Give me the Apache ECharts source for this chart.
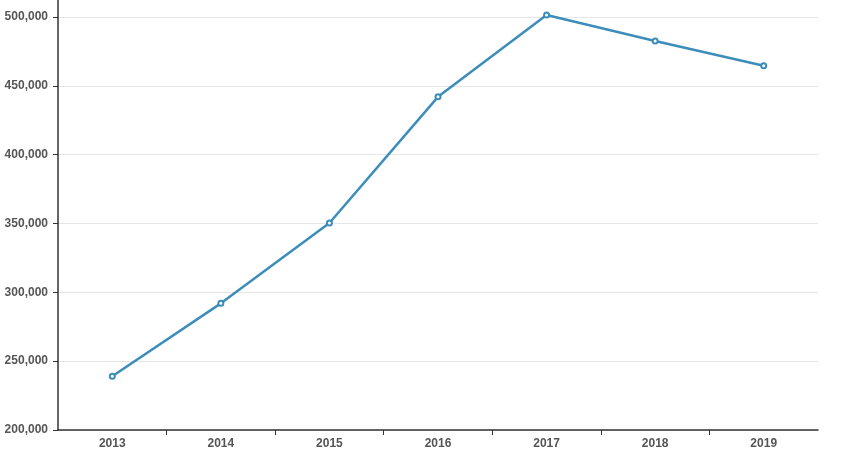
<!DOCTYPE html>
<html>
<head>
<meta charset="utf-8">
<style>
  html, body { margin: 0; padding: 0; background: #fff; }
  #chart { width: 853px; height: 471px; }
</style>
<script src="https://cdn.jsdelivr.net/npm/echarts@6/dist/echarts.min.js"></script>
</head>
<body>
<div id="chart"></div>
<script>
  const years = ['2013', '2014', '2015', '2016', '2017', '2018', '2019'];
  const values = [239000, 292000, 350400, 442000, 501500, 482600, 464600];
  const yTicks = { min: 200000, max: 500000, step: 50000 };

  const chart = echarts.init(document.getElementById('chart'));
  const labelStyle = {
    color: '#555',
    fontWeight: 'bold',
    fontSize: 12,
    fontFamily: 'Liberation Sans, Arial, sans-serif'
  };
  const axisColor = '#333';

  // boundaries between years, without the two ends
  const innerBounds = years.slice(1).map((y, i) => i + 1);

  chart.setOption({
    animation: false,
    grid: [
      { left: 58, right: 35, top: 17, bottom: 41 },
      // the y axis line runs up to the top edge
      { left: 58, right: 35, top: 0, bottom: 41 }
    ],
    xAxis: [{
      type: 'category',
      gridIndex: 0,
      data: years,
      boundaryGap: true,
      axisLine: { lineStyle: { color: axisColor, width: 1.5 } },
      axisTick: { show: false },
      axisLabel: Object.assign({ margin: 8 }, labelStyle),
      splitLine: { show: false }
    }, {
      // tick marks only
      type: 'value',
      gridIndex: 0,
      min: 0,
      max: years.length,
      position: 'bottom',
      axisLine: { show: false },
      axisTick: { show: true, length: 5, customValues: innerBounds, lineStyle: { color: axisColor } },
      axisLabel: { show: false },
      splitLine: { show: false }
    }, {
      type: 'value',
      gridIndex: 1,
      show: false
    }],
    yAxis: [{
      type: 'value',
      gridIndex: 0,
      min: yTicks.min,
      max: yTicks.max,
      interval: yTicks.step,
      axisLine: { show: false },
      axisTick: { show: true, length: 5, lineStyle: { color: axisColor } },
      axisLabel: Object.assign({
        margin: 10,
        formatter: v => v.toLocaleString('en-US')
      }, labelStyle),
      splitLine: { show: true, lineStyle: { color: '#e6e6e6' } }
    }, {
      type: 'value',
      gridIndex: 1,
      axisLine: { show: true, onZero: false, lineStyle: { color: axisColor, width: 1.5 } },
      axisTick: { show: false },
      axisLabel: { show: false },
      splitLine: { show: false }
    }],
    series: [{
      type: 'line',
      xAxisIndex: 0,
      yAxisIndex: 0,
      data: values,
      clip: false,
      symbol: 'emptyCircle',
      symbolSize: 5,
      lineStyle: { color: '#3d8dbb', width: 2.5 },
      itemStyle: { color: '#3d8dbb', borderWidth: 1.2 }
    }]
  });
</script>
</body>
</html>
